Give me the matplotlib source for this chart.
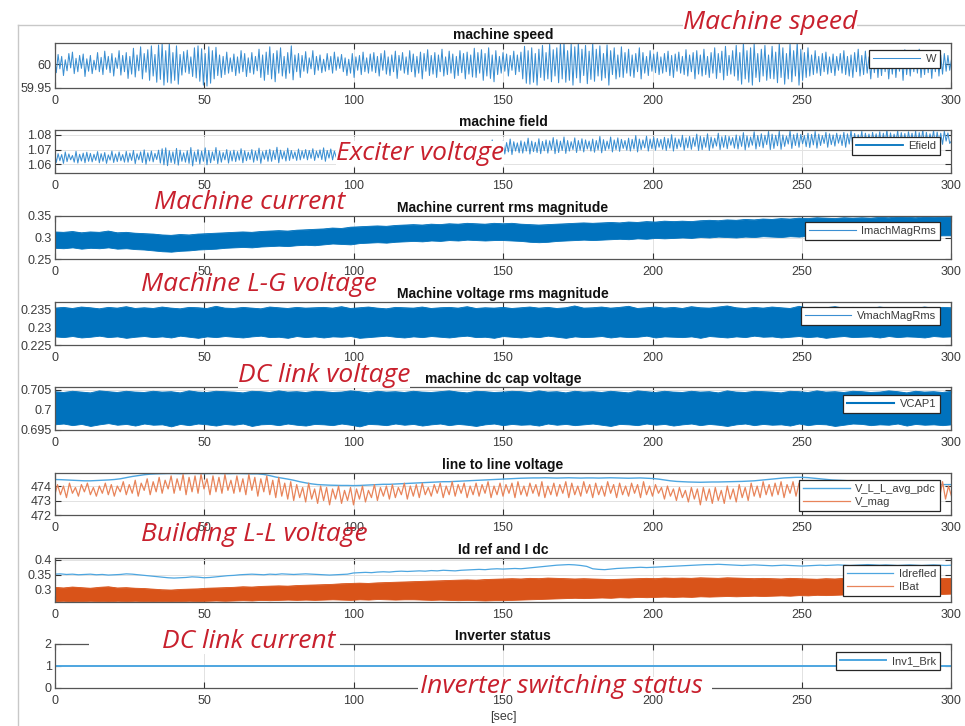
import numpy as np
import matplotlib
matplotlib.use("Agg")
import matplotlib.pyplot as plt
from matplotlib.lines import Line2D
from matplotlib.patches import Rectangle

plt.rcParams['font.family'] = ['Liberation Sans', 'DejaVu Sans']

# ---------------- data ----------------
speed_step = 0.6   # s
speed_mhz = [  # deviation from 60 Hz, in mHz
 14,-18,20,-10,16,-24,9,-14,22,-8,25,-20,12,-16,18,-9,21,-26,11,-15,
 18,-20,8,-12,24,-16,14,-22,27,-11,16,-18,22,-25,13,-9,28,-23,18,-16,
 24,-30,16,-21,33,-27,19,-14,36,-31,22,-17,30,-34,38,-25,20,-38,40,-32,
 42,-44,28,-38,44,-40,24,-34,38,-42,20,-23,26,-17,29,-20,15,-26,34,-29,
 38,-36,32,-44,22,-46,36,-40,28,-31,35,-24,19,-28,16,-22,25,-19,13,-16,
 21,-24,15,-19,28,-16,22,-26,13,-18,24,-21,16,-14,31,-28,19,-34,25,-22,
 36,-31,22,-37,28,-19,34,-25,16,-30,24,-19,38,-33,19,-16,22,-28,18,-15,
 26,-19,13,-10,28,-22,16,-13,19,-18,10,-15,22,-12,16,-19,25,-13,15,-9,
 20,-16,13,-24,10,-19,22,-28,15,-13,18,-22,25,-16,13,-19,21,-15,24,-18,
 16,-25,22,-13,28,-21,15,-24,19,-16,27,-30,18,-13,24,-19,15,-22,28,-16,
 21,-27,16,-19,25,-31,22,-15,30,-24,18,-21,24,-28,19,-16,31,-25,15,-22,
 27,-19,21,-30,16,-24,28,-18,22,-31,25,-21,19,-27,33,-28,24,-19,30,-34,
 22,-25,34,-30,19,-37,28,-22,16,-19,24,-15,21,-25,18,-13,27,-22,19,-16,
 25,-31,37,-40,28,-42,34,-38,22,-44,31,-28,39,-34,24,-31,42,-37,30,-25,
 34,-39,44,-31,46,-38,28,-34,42,-44,36,-29,45,-39,31,-24,39,-41,27,-32,
 44,-36,31,-25,38,-34,22,-29,40,-44,28,-22,34,-31,19,-27,36,-28,24,-19,
 31,-25,19,-28,22,-16,34,-31,24,-19,16,-24,28,-15,21,-18,25,-22,15,-19,
 22,-16,27,-24,18,-28,21,-15,25,-19,16,-22,30,-25,19,-16,24,-31,28,-21,
 19,-25,31,-22,16,-28,24,-19,34,-30,22,-18,27,-33,37,-24,18,-21,28,-25,
 39,-34,24,-42,44,-31,28,-38,34,-44,42,-28,22,-37,31,-25,39,-34,19,-30,
 37,-31,25,-39,44,-28,34,-42,22,-31,42,-37,28,-25,46,-44,31,-34,24,-28,
 34,-25,19,-22,28,-19,16,-24,22,-16,25,-21,15,-18,21,-24,16,-13,22,-19,
 28,-22,16,-25,19,-28,24,-16,31,-25,18,-22,27,-19,15,-31,22,-18,25,-28,
 19,-24,28,-16,22,-31,16,-21,25,-28,19,-15,24,-34,30,-22,18,-25,21,-16,
 25,-19,31,-28,16,-22,27,-18,21,-30,24,-16,28,-25,19,-21,22,-15,18,-13,
 10]

field_step = 0.6   # s
field_e4 = [  # Efield - 1, in units of 1e-4
 680,612,672,624,666,606,684,618,670,630,660,614,688,608,668,622,676,610,682,620,
 674,616,668,626,686,610,672,620,680,606,664,628,690,612,670,618,684,624,666,614,
 688,614,676,626,694,604,672,630,684,612,698,600,678,622,690,616,674,632,696,608,
 706,596,712,590,692,612,684,604,708,594,696,620,678,614,692,606,714,588,684,618,
 700,602,690,620,712,596,694,610,684,626,714,604,690,614,680,630,700,608,688,622,
 696,618,686,628,706,610,692,624,682,632,700,614,690,626,710,606,686,634,696,620,
 702,620,692,632,716,610,696,636,688,622,710,626,694,638,684,626,704,630,692,640,
 700,630,694,640,706,626,690,644,698,632,712,620,694,642,704,630,690,648,722,616,
 708,636,716,624,700,644,722,628,706,640,696,648,728,620,710,638,702,652,720,632,
 718,640,708,650,734,628,714,652,706,642,728,646,712,660,738,632,720,650,708,648,
 728,648,716,660,744,638,726,654,714,664,736,644,722,666,742,648,730,658,718,672,
 738,654,728,668,752,646,732,662,744,656,726,672,758,644,738,666,732,676,752,656,
 752,670,744,682,766,664,748,678,740,688,758,670,748,684,772,666,754,690,746,678,
 760,676,752,690,778,670,758,686,750,680,774,672,756,692,766,676,760,698,782,672,
 768,680,758,694,786,674,762,690,754,700,780,680,762,696,774,684,766,704,758,690,
 772,682,762,698,790,678,768,694,758,704,786,684,766,700,780,688,770,708,762,696,
 778,690,770,704,796,684,772,700,766,712,792,690,772,706,784,696,776,716,770,702,
 784,694,776,710,802,690,780,706,772,718,798,696,780,712,790,702,782,722,806,694,
 792,700,784,716,808,694,786,710,778,724,812,700,788,716,796,706,790,730,782,710,
 800,704,792,722,816,698,794,716,786,730,822,704,796,722,808,712,798,734,824,700,
 806,708,798,726,826,702,800,722,792,738,828,708,802,728,812,716,804,740,796,720,
 812,714,804,732,824,710,806,728,796,742,818,716,808,734,800,724,812,744,800,728,
 818,716,808,738,830,712,810,732,802,748,824,720,812,740,806,728,818,750,808,734,
 822,720,812,742,834,716,814,738,806,752,828,724,816,744,810,732,822,754,812,738,
 826,722,816,746,836,718,818,740,808,756,830,726,820,748,812,736,826,758,814,742,
 760]

band_step = 3.0   # s, envelope sampling of the dense traces
imach_hi = [313,312,314,311,313,312,315,311,312,310, 309,308,306,305,307,306,308,309,310,311,
 312,313,312,314,315,316,315,317,318,319, 320,322,321,324,325,326,327,326,328,329,
 330,329,331,330,332,331,333,332,331,333, 332,333,331,330,329,330,331,332,333,334,
 333,334,335,334,336,335,337,336,338,337, 338,337,339,340,339,341,340,342,341,343,
 342,344,343,345,344,346,345,344,346,345, 346,345,347,346,348,347,346,348,347,348, 348]
imach_lo = [276,275,277,274,276,275,277,274,275,273, 272,270,268,267,269,270,272,273,274,276,
 277,278,277,279,280,281,280,282,283,282, 284,286,285,284,287,288,289,288,290,291,
 292,291,293,292,294,293,295,294,293,294, 294,293,292,290,289,290,292,293,294,295,
 294,295,296,297,296,298,297,299,298,299, 300,299,301,300,302,301,300,302,301,303,
 302,301,303,302,304,303,302,304,303,304, 305,304,306,305,304,306,305,306,304,305, 305]

vmach_hi = [2353,2355,2352,2356,2354,2351,2355,2353,2357,2352, 2354,2352,2356,2353,2351,2355,2354,2352,2358,2353,
 2352,2355,2353,2351,2356,2354,2352,2355,2353,2354, 2355,2353,2357,2352,2354,2356,2353,2351,2355,2354,
 2353,2356,2352,2354,2355,2353,2357,2352,2354,2353, 2355,2352,2354,2356,2353,2355,2352,2354,2359,2353,
 2354,2356,2353,2355,2358,2352,2354,2356,2353,2355, 2352,2357,2354,2353,2356,2359,2354,2352,2355,2353,
 2356,2354,2352,2358,2353,2355,2354,2357,2353,2355, 2354,2352,2356,2353,2355,2354,2352,2356,2353,2355, 2354]
vmach_lo = [2274,2272,2275,2271,2273,2276,2272,2274,2270,2273, 2275,2272,2274,2271,2276,2273,2270,2274,2272,2275,
 2273,2271,2274,2276,2272,2273,2270,2275,2272,2274, 2271,2274,2273,2275,2270,2272,2274,2276,2273,2271,
 2274,2272,2275,2273,2271,2274,2276,2272,2273,2270, 2275,2273,2271,2274,2272,2276,2273,2270,2274,2272,
 2273,2275,2271,2274,2272,2273,2276,2271,2274,2273, 2272,2274,2270,2275,2273,2271,2274,2272,2276,2273,
 2274,2271,2273,2275,2272,2274,2270,2273,2275,2272, 2273,2274,2271,2275,2272,2274,2273,2271,2275,2273, 2274]

vcap_hi = [7045,7043,7046,7044,7042,7047,7045,7043,7046,7044, 7043,7046,7044,7045,7042,7047,7044,7043,7046,7045,
 7044,7042,7046,7045,7043,7047,7044,7045,7043,7046, 7045,7043,7044,7047,7045,7042,7046,7044,7045,7043,
 7046,7044,7043,7045,7047,7044,7042,7046,7045,7043, 7044,7046,7045,7043,7047,7044,7045,7042,7046,7044,
 7045,7043,7046,7044,7042,7047,7045,7043,7046,7044, 7043,7046,7044,7045,7042,7047,7044,7043,7046,7045,
 7044,7042,7046,7045,7043,7047,7044,7045,7043,7046, 7045,7043,7044,7047,7045,7042,7046,7044,7045,7043, 7046]
vcap_lo = [6964,6966,6962,6965,6960,6964,6967,6963,6965,6961, 6966,6963,6964,6959,6965,6962,6966,6964,6961,6965,
 6963,6966,6960,6964,6965,6962,6966,6963,6961,6965, 6964,6962,6966,6963,6959,6965,6964,6962,6966,6963,
 6965,6961,6964,6966,6962,6965,6963,6960,6964,6966, 6962,6965,6963,6964,6961,6966,6963,6965,6962,6964,
 6966,6963,6960,6965,6964,6962,6966,6963,6965,6961, 6964,6966,6962,6965,6963,6960,6964,6966,6962,6965,
 6963,6964,6961,6966,6962,6965,6964,6960,6963,6966, 6965,6962,6964,6963,6966,6961,6965,6963,6964,6962, 6964]

ibat_hi = [308,306,309,307,305,308,310,306,307,305, 304,302,300,299,301,302,303,305,306,307,
 308,310,309,311,312,313,312,314,315,316, 317,318,320,321,322,321,323,324,325,326,
 327,328,329,330,331,332,333,332,334,335, 336,337,336,338,337,339,338,337,336,337,
 336,335,334,335,336,337,338,337,339,338, 339,338,340,339,338,340,339,338,337,338,
 337,336,338,337,336,335,337,336,338,337, 338,337,336,338,337,339,338,337,338,337, 338]
ibat_lo = [262,263,261,262,263,262,261,263,262,263, 262,261,262,261,262,263,262,263,264,263,
 264,265,264,266,265,266,267,266,267,266, 267,268,267,266,268,267,269,268,267,268,
 268,267,266,267,266,265,266,265,264,265, 265,266,267,268,269,270,271,272,273,272,
 273,274,273,275,274,276,275,276,277,276, 277,276,278,277,278,279,278,279,280,279,
 280,281,280,282,281,283,282,283,284,283, 284,285,284,286,285,286,287,286,287,286, 287]

idref_step = 2.0
idref_e3 = [352,353,351,352,350,351,352,350,351,349, 350,351,353,352,350,348,346,344,342,340,
 339,340,341,343,342,340,341,343,345,347, 348,350,351,352,351,350,352,351,353,352,
 351,352,353,352,351,350,349,350,351,352, 356,357,358,357,359,360,359,361,362,361,
 362,363,362,364,363,365,364,363,365,366, 367,368,367,369,370,369,370,371,370,372,
 374,376,378,380,382,383,384,383,381,378, 370,368,367,369,371,372,373,374,375,374,
 375,376,377,378,379,380,381,382,383,384, 384,385,384,383,382,381,382,383,382,381,
 380,381,382,381,380,379,380,381,382,381, 382,383,382,381,382,383,384,383,382,383,
 382,381,382,383,382,381,382,383,382,381, 382]

vll_step = 2.0
vll_avg = [474.45,474.44,474.42,474.40,474.38,474.36,474.36,474.38,474.40,474.42,
 474.45,474.50,474.58,474.66,474.72,474.78,474.82,474.84,474.85,474.86,
 474.86,474.85,474.86,474.87,474.86,474.85,474.86,474.87,474.86,474.85,
 474.86,474.86,474.85,474.84,474.84,474.80,474.72,474.62,474.55,474.48,
 474.40,474.30,474.22,474.15,474.10,474.08,474.06,474.05,474.04,474.04,
 474.03,474.04,474.06,474.08,474.10,474.12,474.12,474.14,474.16,474.18,
 474.20,474.22,474.24,474.26,474.28,474.30,474.30,474.32,474.34,474.36,
 474.38,474.40,474.42,474.44,474.46,474.48,474.50,474.52,474.54,474.55,
 474.56,474.56,474.57,474.56,474.55,474.56,474.57,474.56,474.55,474.56,
 474.56,474.55,474.56,474.57,474.56,474.55,474.54,474.55,474.56,474.54,
 474.52,474.48,474.42,474.36,474.32,474.30,474.28,474.27,474.26,474.27,
 474.28,474.28,474.29,474.30,474.31,474.32,474.34,474.36,474.40,474.44,
 474.48,474.52,474.56,474.58,474.60,474.60,474.58,474.54,474.50,474.46,
 474.42,474.40,474.38,474.36,474.34,474.32,474.30,474.28,474.26,474.24,
 474.22,474.20,474.18,474.16,474.14,474.12,474.12,474.10,474.10,474.10,
 474.10]

vmag_step = 1.0
vmag = [473.3,474.1,473.4,474.0,473.2,474.2,473.5,473.9,473.3,474.1,473.6,474.2,473.4,473.9,473.3,474.0,473.5,474.2,473.4,474.1,
 473.3,474.0,473.6,474.3,473.4,474.1,473.5,474.4,473.3,474.2,473.7,474.5,473.4,474.3,473.6,474.6,473.5,474.4,473.8,474.7,
 473.5,474.5,473.7,474.8,473.4,474.6,473.6,474.7,473.5,474.8,473.8,474.5,473.4,474.7,473.6,474.6,473.5,474.8,473.7,474.4,
 473.5,474.7,473.6,474.5,473.4,474.8,473.7,474.6,473.3,474.5,473.6,474.7,473.4,474.4,473.2,474.6,473.3,474.2,473.1,474.3,
 473.0,474.1,473.2,473.9,472.9,474.2,473.1,473.8,472.8,474.0,473.0,473.9,472.7,473.8,473.1,474.0,472.8,473.7,473.0,473.9,
 472.7,473.8,473.1,474.0,472.9,473.7,473.2,474.1,473.0,473.9,473.3,474.0,473.1,474.1,473.2,473.9,473.4,474.2,473.1,474.0,
 473.3,474.1,473.2,474.2,473.4,473.9,473.3,474.1,473.5,474.2,473.2,474.0,473.4,474.3,473.3,474.1,473.5,474.2,473.2,474.0,
 473.4,474.2,473.3,474.1,473.5,474.3,473.2,474.0,473.4,474.2,473.3,474.1,473.5,474.2,473.2,474.3,473.4,474.0,473.3,474.2,
 473.5,474.1,473.3,474.3,473.2,474.0,473.4,474.2,473.3,474.1,473.5,474.3,473.2,474.2,473.4,474.0,473.3,474.3,473.5,474.1,
 473.2,474.2,473.4,474.0,473.3,474.3,473.5,474.1,473.2,474.2,473.4,474.0,473.3,474.2,473.5,474.1,473.2,474.3,473.4,474.0,
 473.3,474.1,473.5,473.9,473.1,474.0,473.3,473.8,473.0,473.9,473.2,473.7,472.9,473.9,473.1,473.8,472.7,473.9,473.0,473.8,
 472.8,473.9,473.0,473.7,472.8,474.0,473.1,473.8,472.9,474.1,473.2,473.9,473.0,474.2,473.3,474.0,473.2,474.3,473.4,474.1,
 473.3,474.2,473.4,474.3,473.2,474.1,473.5,474.3,473.3,474.2,473.4,474.0,473.3,474.3,473.5,474.1,473.2,474.2,473.4,474.0,
 473.3,474.2,473.5,474.1,473.2,474.3,473.4,474.0,473.3,474.2,473.5,474.1,473.2,474.3,473.4,474.0,473.3,474.2,473.5,474.1,
 473.2,474.3,473.4,474.0,473.3,474.2,473.5,474.1,473.2,474.3,473.4,474.0,473.3,474.2,473.5,474.1,473.2,474.3,473.1,474.0,
 473.3]

inv_t = [0, 300]
inv_brk = [1, 1]

titles = ["machine speed", "machine field", "Machine current rms magnitude",
          "Machine voltage rms magnitude", "machine dc cap voltage",
          "line to line voltage", "Id ref and I dc", "Inverter status"]
yticks = [[59.95, 60], [1.06, 1.07, 1.08], [0.25, 0.3, 0.35], [0.225, 0.23, 0.235],
          [0.695, 0.7, 0.705], [472, 473, 474], [0.3, 0.35, 0.4], [0, 1, 2]]
yticklabels = [["59.95", "60"], ["1.06", "1.07", "1.08"], ["0.25", "0.3", "0.35"],
               ["0.225", "0.23", "0.235"], ["0.695", "0.7", "0.705"],
               ["472", "473", "474"], ["0.3", "0.35", "0.4"], ["0", "1", "2"]]
ylims = [(59.95, 60.044), (1.054, 1.0834), (0.25, 0.35), (0.225, 0.237),
         (0.695, 0.70565), (472, 474.9), (0.259, 0.406), (0, 2)]
xticks = [0, 50, 100, 150, 200, 250, 300]

annotations = ["Machine speed", "Exciter voltage", "Machine current", "Machine L-G voltage",
               "DC link voltage", "Building L-L voltage", "DC link current",
               "Inverter switching status"]

# ---------------- layout ----------------
W, H = 965, 726
fig = plt.figure(figsize=(W / 100, H / 100), dpi=100)
fig.patch.set_facecolor('white')

BLUE = '#0072BD'
LBLUE = '#3b8fd2'
ORANGE = '#D95319'
AXC = '#555555'
TXT = '#3c3c3c'

x0, x1 = 54.5, 951.5
panel_px = [(43, 88), (130, 173), (216, 259), (302, 345), (387, 430), (473, 515), (558, 602), (644, 688)]
legend_top = [7, 7, 6, 5, 8, 7, 7, 8]
legend_right = 940

axes = []
for (top, bot) in panel_px:
    ax = fig.add_axes([x0 / W, 1 - bot / H, (x1 - x0) / W, (bot - top) / H])
    axes.append(ax)


def arr_t(vals, step):
    return np.arange(len(vals)) * step


# 1 speed
ax = axes[0]
ax.plot(arr_t(speed_mhz, speed_step), 60 + np.array(speed_mhz) / 1000.0, color=LBLUE, lw=0.75, label='W')
# 2 field
ax = axes[1]
ax.plot(arr_t(field_e4, field_step), 1 + np.array(field_e4) / 10000.0, color=LBLUE, lw=0.75)
efield_handle = Line2D([], [], color=BLUE, lw=1.3)
# 3 machine current band
ax = axes[2]
tb = arr_t(imach_hi, band_step)
ax.fill_between(tb, np.array(imach_lo) / 1000, np.array(imach_hi) / 1000, color=BLUE, lw=0.6, edgecolor=BLUE)
ax.plot(tb, np.array(imach_hi) / 1000, color=BLUE, lw=0.6)
imach_handle = Line2D([], [], color=LBLUE, lw=0.8)
# 4 machine voltage band
ax = axes[3]
ax.fill_between(tb, np.array(vmach_lo) / 10000, np.array(vmach_hi) / 10000, color=BLUE, lw=0.6, edgecolor=BLUE)
ax.plot(tb, np.array(vmach_hi) / 10000, color=BLUE, lw=0.6)
vmach_handle = Line2D([], [], color=LBLUE, lw=0.8)
# 5 dc cap band
ax = axes[4]
ax.fill_between(tb, np.array(vcap_lo) / 10000, np.array(vcap_hi) / 10000, color=BLUE, lw=0.6, edgecolor=BLUE)
ax.plot(tb, np.array(vcap_hi) / 10000, color=BLUE, lw=0.6)
vcap_handle = Line2D([], [], color=BLUE, lw=1.5)
# 6 line to line
ax = axes[5]
ax.plot(arr_t(vll_avg, vll_step), vll_avg, color='#4da6e0', lw=1.0, label='V_L_L_avg_pdc')
ax.plot(arr_t(vmag, vmag_step), vmag, color='#e8845a', lw=0.9, label='V_mag')
# 7 Id ref and I dc
ax = axes[6]
ax.plot(arr_t(idref_e3, idref_step), np.array(idref_e3) / 1000, color='#4da6e0', lw=0.9, label='Idrefled')
ax.fill_between(tb, np.array(ibat_lo) / 1000, np.array(ibat_hi) / 1000, color=ORANGE, lw=0.6, edgecolor=ORANGE)
ax.plot(tb, np.array(ibat_hi) / 1000, color=ORANGE, lw=0.6)
ibat_handle = Line2D([], [], color='#e8845a', lw=0.9)
# 8 inverter status
ax = axes[7]
ax.plot(inv_t, inv_brk, color='#4da6e0', lw=1.4, label='Inv1_Brk')

legend_sets = {1: ([efield_handle], ['Efield']), 2: ([imach_handle], ['ImachMagRms']),
               3: ([vmach_handle], ['VmachMagRms']), 4: ([vcap_handle], ['VCAP1'])}

for i, ax in enumerate(axes):
    ax.set_xlim(0, 300)
    ax.set_ylim(*ylims[i])
    ax.set_xticks(xticks)
    ax.set_xticklabels([str(v) for v in xticks])
    ax.set_yticks(yticks[i])
    ax.set_yticklabels(yticklabels[i])
    ax.tick_params(direction='in', length=4, width=0.8, color='#333333', labelsize=9,
                   labelcolor=TXT, top=True, right=True)
    ax.tick_params(axis='x', pad=5)
    ax.tick_params(axis='y', pad=2)
    ax.grid(True, color='#e2e2e2', lw=0.7)
    ax.set_axisbelow(True)
    for s in ax.spines.values():
        s.set_color(AXC)
        s.set_linewidth(0.9)
    ax.set_title(titles[i], fontsize=10, fontweight='bold', pad=3, color='#111111')

    top, bot = panel_px[i]
    bx = (legend_right - x0) / (x1 - x0)
    by = 1 - legend_top[i] / (bot - top)
    if i in legend_sets:
        handles, labels = legend_sets[i]
    elif i == 6:
        h0, l0 = ax.get_legend_handles_labels()
        handles, labels = h0 + [ibat_handle], l0 + ['IBat']
    else:
        handles, labels = ax.get_legend_handles_labels()
    leg = ax.legend(handles, labels, loc='upper right', bbox_to_anchor=(bx, by), borderaxespad=0,
                    fancybox=False, framealpha=1, edgecolor='#262626', fontsize=8,
                    handlelength=4.2, handletextpad=0.5, borderpad=0.35, labelspacing=0.25)
    leg.get_frame().set_linewidth(0.9)
    for t in leg.get_texts():
        t.set_color(TXT)

axes[-1].set_xlabel('[sec]', fontsize=9, color=TXT, labelpad=3)

# frame of the screenshot
fig.add_artist(Line2D([18 / W, 18 / W], [0, 1 - 25 / H], transform=fig.transFigure, color='#c8c8c8', lw=1))
fig.add_artist(Line2D([18 / W, 1], [1 - 25 / H, 1 - 25 / H], transform=fig.transFigure, color='#c8c8c8', lw=1))

# white patches hiding parts of the last panel's edges behind the callouts
fig.add_artist(Rectangle((89 / W, 1 - 652 / H), (340 - 89) / W, 22 / H, transform=fig.transFigure,
                         facecolor='white', edgecolor='none', zorder=2))
fig.add_artist(Rectangle((418 / W, 1 - 691 / H), (712 - 418) / W, 14 / H, transform=fig.transFigure,
                         facecolor='white', edgecolor='none', zorder=2))

ann_pos = [(683, 29), (336, 160), (154, 209), (141, 291), (238, 381.5), (141, 541), (162, 648), (420, 693)]
ann_bg = [True, True, True, False, True, False, True, False]
for txt, (px, py), bg in zip(annotations, ann_pos, ann_bg):
    kw = dict(bbox=dict(facecolor='white', edgecolor='none', pad=0)) if bg else {}
    fig.text(px / W, 1 - py / H, txt, ha='left', va='baseline', fontsize=19, style='italic',
             family=['Open Sans', 'DejaVu Sans'], color='#c8202d', zorder=3, **kw)

fig.savefig('out.png', dpi=100, facecolor='white')
